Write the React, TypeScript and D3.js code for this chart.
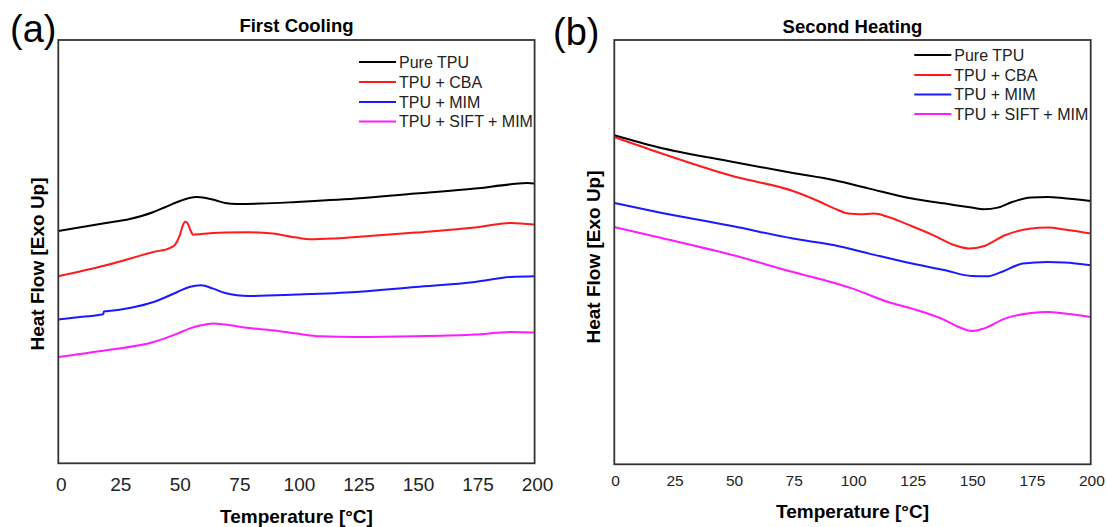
import React from "react";
import * as d3 from "d3";

type Pt = [number, number];

// Temperature ticks
const tempTicks = [0, 25, 50, 75, 100, 125, 150, 175, 200];
const seriesNames = ["Pure TPU", "TPU + CBA", "TPU + MIM", "TPU + SIFT + MIM"];
const seriesColors = ["#000000", "#ff1a1a", "#1a1aff", "#ff1aff"];

// (a) First Cooling — heat flow in arbitrary units vs temperature [°C]
const coolPure: Pt[] = [[0,232.3],[10,236.3],[20,240.3],[30,244.3],[40,251.3],[45,256.3],[50,261.3],[55,265.3],[58,266.3],[62,265.3],[66,263],[70,260.3],[75,259.3],[85,259.7],[100,261.3],[125,264.7],[150,269.7],[175,274.7],[190,279],[197,280.3],[200,279.7]];
const coolCBA: Pt[] = [[0,187],[20,198],[40,211.3],[47,215.5],[49,218.5],[51,228],[52.3,238],[53.3,241.5],[54.3,240],[55.5,233],[56.7,228.5],[60,229.3],[70,230.7],[80,231],[90,229.7],[100,225.7],[106,224],[115,224.7],[125,226.3],[150,230.7],[175,235.7],[190,240.3],[200,238.7]];
const coolMIM: Pt[] = [[0,143.7],[10,146.5],[18.8,149],[19.2,151.8],[20,152],[30,155.3],[40,161.3],[50,171.3],[55,176.3],[60,178],[65,174.7],[70,170.3],[75,168],[80,167.3],[100,168.7],[125,171.3],[150,176.3],[175,181.3],[190,186.3],[200,187]];
const coolSIFT: Pt[] = [[0,106.3],[20,113],[40,121.3],[50,129.7],[55,134.7],[60,138],[65,139.7],[70,138.7],[80,135.3],[90,133],[100,129.7],[110,127],[125,126.3],[150,127],[175,128.7],[190,131.3],[200,130.7]];

// (b) Second Heating
const heatPure: Pt[] = [[0,329],[18,317.3],[50,302.3],[75,291.3],[92.5,284],[107,275.7],[125,265.7],[139,260.7],[150,256.7],[155,255],[161,256.7],[167,262.3],[175,266.7],[182,267.3],[189,266],[200,263.3]];
const heatCBA: Pt[] = [[0,327.3],[18,312.3],[50,288],[75,273.3],[86.5,262.3],[92.5,255.7],[98.4,250.7],[103,250],[109,250.7],[115,247.3],[125,238],[134,229],[143,219],[149,215.7],[155,218],[164,229],[175,235.7],[182,236.7],[189,234.7],[200,230.7]];
const heatMIM: Pt[] = [[0,261.3],[18,252.3],[50,238],[75,225.7],[92.5,219],[107,210.7],[125,200.7],[139,194],[150,188.3],[156.5,188],[162.5,192.3],[171.5,200.7],[182,202.3],[189,201.7],[200,199]];
const heatSIFT: Pt[] = [[0,237.3],[18,227.3],[50,209],[75,192.3],[92.5,181.3],[100,175.7],[115,162.3],[125,155.7],[139,144],[144.6,137.3],[150,133.3],[155,135.7],[164,145.7],[175,151.3],[182,152.3],[189,150.7],[200,147.3]];

const FONT = "'Liberation Sans', Arial, Helvetica, sans-serif";

interface PanelProps {
  left: number; right: number; top: number; bottom: number;
  yMax: number;
  series: Pt[][];
  title: string; tag: string;
  tagX: number; tagY: number;
  titleY: number;
  tickY: number; tickSize: number; tickShift: number;
  xTitleY: number; yTitleX: number; yTitleY: number;
  legX: number; legY: number[];
}

function Panel(p: PanelProps) {
  const x = d3.scaleLinear().domain([0, 200]).range([p.left, p.right]);
  const y = d3.scaleLinear().domain([0, p.yMax]).range([p.bottom, p.top]);
  const line = d3.line<Pt>().x(d => x(d[0])).y(d => y(d[1])).curve(d3.curveMonotoneX);
  const cx = (p.left + p.right) / 2;
  return (
    <g>
      <text x={p.tagX} y={p.tagY} fontFamily={FONT} fontSize={38}>{p.tag}</text>
      <text x={cx} y={p.titleY} textAnchor="middle" fontFamily={FONT} fontSize={18.5} fontWeight="bold">{p.title}</text>
      {p.series.map((s, i) => (
        <path key={i} d={line(s) || ""} fill="none" stroke={seriesColors[i]} strokeWidth={2} />
      ))}
      <rect x={p.left} y={p.top} width={p.right - p.left} height={p.bottom - p.top} fill="none" stroke="#333" strokeWidth={1.8} />
      {tempTicks.map(t => (
        <text key={t} x={x(t) + p.tickShift} y={p.tickY} textAnchor="middle" fontFamily={FONT} fontSize={p.tickSize} fill="#222">{t}</text>
      ))}
      <text x={cx} y={p.xTitleY} textAnchor="middle" fontFamily={FONT} fontSize={19} fontWeight="bold">Temperature [°C]</text>
      <text transform={`translate(${p.yTitleX},${p.yTitleY}) rotate(-90)`} textAnchor="middle" fontFamily={FONT} fontSize={19} fontWeight="bold">Heat Flow [Exo Up]</text>
      {seriesNames.map((n, i) => (
        <g key={n}>
          <line x1={p.legX} x2={p.legX + 37} y1={p.legY[i]} y2={p.legY[i]} stroke={seriesColors[i]} strokeWidth={2} />
          <text x={p.legX + 40} y={p.legY[i] + 5.5} fontFamily={FONT} fontSize={16} fill="#222">{n}</text>
        </g>
      ))}
    </g>
  );
}

export default function App() {
  return (
    <svg width={1107} height={527} style={{ position: "absolute", left: 0, top: 0, background: "#fff" }}>
      <rect width={1107} height={527} fill="#fff" />
      <Panel left={58.3} right={534.6} top={40} bottom={463.3} yMax={423.3}
        series={[coolPure, coolCBA, coolMIM, coolSIFT]}
        title="First Cooling" tag="(a)" tagX={10} tagY={42} titleY={32}
        tickY={490.5} tickSize={19} tickShift={3} xTitleY={523} yTitleX={44} yTitleY={264}
        legX={359} legY={[62, 82, 102, 121.5]} />
      <Panel left={614.3} right={1090.7} top={40} bottom={464.3} yMax={424.3}
        series={[heatPure, heatCBA, heatMIM, heatSIFT]}
        title="Second Heating" tag="(b)" tagX={553} tagY={45} titleY={33}
        tickY={486} tickSize={15.5} tickShift={1.2} xTitleY={518} yTitleX={600} yTitleY={257}
        legX={914.3} legY={[55, 75, 94.5, 114]} />
    </svg>
  );
}
